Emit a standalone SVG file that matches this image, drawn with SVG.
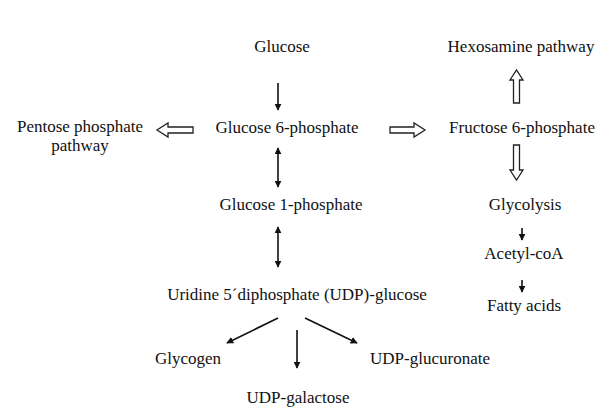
<svg xmlns="http://www.w3.org/2000/svg" width="614" height="410" viewBox="0 0 614 410">
<defs>
<style>
text{font-family:"Liberation Serif","Times New Roman",serif;font-size:17px;fill:#111;text-anchor:middle}
.ln{stroke:#111;stroke-width:1.6;fill:none}
.hol{stroke:#222;stroke-width:1.3;fill:#fff}
</style>
<marker id="ah" viewBox="0 0 10 10" refX="9" refY="5" markerWidth="7" markerHeight="7" markerUnits="userSpaceOnUse" orient="auto-start-reverse">
<path d="M0,0 L10,5 L0,10 z" fill="#111"/>
</marker>
</defs>
<rect width="614" height="410" fill="#fff"/>
<g font-family="Liberation Serif, serif">
<g id="glucose"><text x="282" y="52">Glucose</text></g>
<g id="g6p"><text x="287" y="133">Glucose 6-phosphate</text></g>
<g id="g1p"><text x="291" y="210">Glucose 1-phosphate</text></g>
<g id="udpg"><text x="297" y="300">Uridine 5´diphosphate (UDP)-glucose</text></g>
<g id="glycogen"><text x="188" y="364">Glycogen</text></g>
<g id="udpgal"><text x="298" y="403">UDP-galactose</text></g>
<g id="udpglu"><text x="430" y="364">UDP-glucuronate</text></g>
<g id="ppp"><text x="80" y="132">Pentose phosphate</text><text x="80" y="151">pathway</text></g>
<g id="f6p"><text x="522" y="133">Fructose 6-phosphate</text></g>
<g id="hex"><text x="521" y="52">Hexosamine pathway</text></g>
<g id="glycolysis"><text x="525" y="210">Glycolysis</text></g>
<g id="acetyl"><text x="524" y="259">Acetyl-coA</text></g>
<g id="fatty"><text x="524" y="311">Fatty acids</text></g>
</g>
<g id="connectors">
<line class="ln" x1="278" y1="83" x2="278" y2="110" marker-end="url(#ah)"/>
<line class="ln" x1="278" y1="148" x2="278" y2="187" marker-start="url(#ah)" marker-end="url(#ah)"/>
<line class="ln" x1="278" y1="227" x2="278" y2="267" marker-start="url(#ah)" marker-end="url(#ah)"/>
<line class="ln" x1="278" y1="318" x2="227" y2="343" marker-end="url(#ah)"/>
<line class="ln" x1="297" y1="330" x2="297" y2="368" marker-end="url(#ah)"/>
<line class="ln" x1="305" y1="318" x2="357" y2="343" marker-end="url(#ah)"/>
<line class="ln" x1="522" y1="228" x2="522" y2="240" marker-end="url(#ah)"/>
<line class="ln" x1="522" y1="280" x2="522" y2="292" marker-end="url(#ah)"/>
<path class="hol" d="M193,127 L168,127 L168,123 L157,130 L168,137 L168,133 L193,133 Z"/>
<path class="hol" d="M390,127 L414,127 L414,123 L425,130 L414,137 L414,133 L390,133 Z"/>
<path class="hol" d="M513.5,103 L513.5,80 L510,80 L516.5,70 L523,80 L519.5,80 L519.5,103 Z"/>
<path class="hol" d="M513.5,145 L513.5,170 L510,170 L516.5,180 L523,170 L519.5,170 L519.5,145 Z"/>
</g>
</svg>
